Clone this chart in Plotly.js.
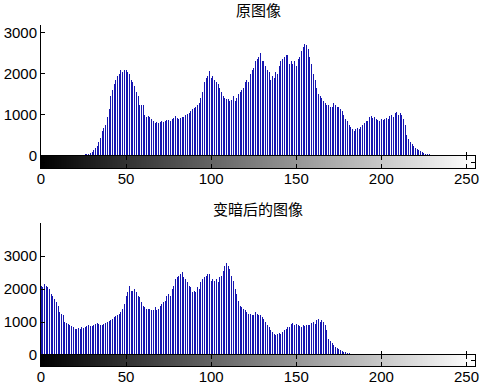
<!DOCTYPE html>
<html>
<head>
<meta charset="utf-8">
<script src="https://cdn.plot.ly/plotly-3.0.1.min.js"></script>
<style>
html,body{margin:0;padding:0;background:#fff;}
#chart{width:487px;height:386px;}
.scatterlayer path.js-line{shape-rendering:crispEdges;}
</style>
</head>
<body>
<div id="chart"></div>
<script>
// Titles
const titleOriginal = "原图像";
const titleDark = "变暗后的图像";

// Tick labels
const xTickVals = [0, 50, 100, 150, 200, 250];
const xTickText = ["0", "50", "100", "150", "200", "250"];
const yTickVals1 = [0, 1000, 2000, 3000];
const yTickText1 = ["0", "1000", "2000", "3000"];
const yTickVals2 = [0, 1000, 2000, 3000];
const yTickText2 = ["0", "1000", "2000", "3000"];

// Gray levels 0..255
const grayLevels = Array.from({length: 256}, (_, i) => i);

// Histogram counts of the original image (bins 0..255)
const countsOriginal = [
  0,0,0,0,0,0,0,0,0,0, 0,0,0,0,0,0,0,0,0,0, 0,0,0,0,0,
  30,40,50,60,80,
  100,140,190,250,350,450,600,680,750,950,
  1150,1450,1600,1750,1850,1950,2000,2100,2050,2100,
  2100,2050,2000,1850,1800,1700,1550,1450,1250,1230,
  1250,1000,960,980,950,900,850,800,820,800,
  820,850,830,850,870,880,860,900,920,980,
  930,900,920,950,960,1000,1020,1050,1100,1150,
  1180,1200,1250,1300,1400,1550,1800,1900,1950,2080,
  1900,1950,1850,1800,1750,1650,1550,1450,1400,1380,
  1380,1350,1370,1450,1350,1400,1500,1550,1600,1650,
  1800,1850,1800,2000,2100,2150,2300,2350,2400,2500,
  2300,2300,2200,2100,2050,1850,1950,1900,2050,2000,
  2200,2300,2350,2400,2450,2450,2250,2300,2250,2300,
  2200,2350,2400,2550,2650,2720,2700,2600,2400,2250,
  2000,1850,1650,1500,1450,1400,1350,1300,1250,1250,
  1200,1200,1300,1250,1200,1200,1150,1100,1000,900,
  850,750,700,650,620,650,680,650,700,750,
  800,850,850,950,980,920,950,900,880,850,
  900,880,900,920,900,980,1000,950,1050,1080,
  1000,1050,1000,900,750,500,420,350,300,250,
  200,180,150,120,100,80,60,50,40,30,
  30,20,20,20,15,20,10,15,10,10,
  15,10,5,10,5,10,5,5,10,5,
  0,0,0,0,0,0
];

// Histogram counts of the darkened image (bins 0..255)
const countsDark = [
  2100,2050,2150,2100,2050,2000,1850,1800,1700,1600,
  1500,1300,1230,1200,1000,960,950,920,880,850,
  800,780,820,800,850,830,850,880,900,870,
  880,920,950,980,930,900,920,950,960,1000,
  1020,1050,1100,1150,1180,1200,1250,1300,1400,1550,
  1800,1900,2100,1950,1950,2000,1900,1800,1750,1600,
  1500,1450,1400,1400,1380,1350,1350,1450,1350,1400,
  1500,1550,1600,1650,1800,1850,1800,2000,2100,2300,
  2350,2400,2450,2530,2350,2300,2200,2100,2050,1900,
  1950,1900,2050,2000,2200,2300,2350,2400,2450,2450,
  2250,2300,2250,2300,2200,2350,2400,2550,2700,2780,
  2700,2600,2400,2250,2000,1850,1650,1500,1450,1400,
  1350,1300,1250,1250,1200,1200,1300,1250,1200,1200,
  1150,1100,1000,900,850,750,700,650,620,650,
  680,650,700,750,800,850,850,950,980,920,
  950,900,880,850,900,880,900,920,900,980,
  1000,950,1050,1080,1000,1050,1000,900,750,500,
  420,350,300,250,200,180,150,120,100,80,
  60,50,40,30,30,20,20,20,15,20,
  10,15,10,10,15,10,5,10,5,10,
  0,0,0,0,0,0,0,0,0,0, 0,0,0,0,0,0,0,0,0,0,
  0,0,0,0,0,0,0,0,0,0, 0,0,0,0,0,0,0,0,0,0,
  0,0,0,0,0,0,0,0,0,0, 0,0,0,0,0,0
];

// Build stem line segments from the data
function stems(levels, counts) {
  const xs = [], ys = [];
  levels.forEach((g, i) => {
    if (counts[i] > 0) { xs.push(g, g, null); ys.push(0, counts[i], null); }
  });
  return {x: xs, y: ys};
}

const s1 = stems(grayLevels, countsOriginal);
const s2 = stems(grayLevels, countsDark);

const stemColor = '#1616b0';
const tickFont = {family: '"Liberation Sans Narrow", "Liberation Sans", Arial, sans-serif', size: 15, color: '#000'};

const traces = [
  {type: 'scatter', mode: 'lines', x: s1.x, y: s1.y, xaxis: 'x', yaxis: 'y',
   line: {color: stemColor, width: 1}, hoverinfo: 'skip', showlegend: false, connectgaps: false},
  {type: 'heatmap', x: grayLevels, y: [0.5], z: [grayLevels], xaxis: 'x2', yaxis: 'y2',
   colorscale: [[0, '#000000'], [1, '#ffffff']], zmin: 0, zmax: 255, showscale: false, hoverinfo: 'skip'},
  {type: 'scatter', mode: 'lines', x: s2.x, y: s2.y, xaxis: 'x3', yaxis: 'y3',
   line: {color: stemColor, width: 1}, hoverinfo: 'skip', showlegend: false, connectgaps: false},
  {type: 'heatmap', x: grayLevels, y: [0.5], z: [grayLevels], xaxis: 'x4', yaxis: 'y4',
   colorscale: [[0, '#000000'], [1, '#ffffff']], zmin: 0, zmax: 255, showscale: false, hoverinfo: 'skip'}
];

const W = 487, H = 386;
const xDom = [41 / W, 475 / W];
function yDom(topPx, botPx) { return [(H - botPx) / H, (H - topPx) / H]; }

function histX(anchor) {
  return {domain: xDom, range: [0, 255], anchor: anchor, showgrid: false, zeroline: false,
    showline: false, showticklabels: false, ticks: 'inside', ticklen: 4, tickcolor: '#000',
    tickvals: xTickVals, layer: 'below traces', fixedrange: true};
}
function histY(anchor, dom, range, tv, tt) {
  return {domain: dom, range: range, anchor: anchor, showgrid: false, zeroline: false,
    showline: true, linecolor: '#000', linewidth: 1, ticks: 'inside', ticklen: 4, tickcolor: '#000',
    tickvals: tv, ticktext: tt, tickfont: tickFont, fixedrange: true};
}
function barX(anchor) {
  return {domain: xDom, range: [0, 255], anchor: anchor, showgrid: false, zeroline: false,
    showline: true, linecolor: '#000', linewidth: 1, mirror: 'ticks', ticks: 'inside', ticklen: 4,
    tickcolor: '#000', tickvals: xTickVals, ticktext: xTickText, tickfont: tickFont,
    ticklabelstandoff: -3, fixedrange: true};
}
function barY(anchor, dom) {
  return {domain: dom, range: [0, 1], anchor: anchor, showgrid: false, zeroline: false,
    showline: true, linecolor: '#000', linewidth: 1, mirror: 'ticks', ticks: 'inside', ticklen: 4,
    tickcolor: '#000', tickvals: [0.5], showticklabels: false, fixedrange: true};
}

const titleFont = {family: '"Noto Sans CJK SC", sans-serif', size: 15, color: '#000'};

const layout = {
  width: W, height: H,
  margin: {l: 0, r: 0, t: 0, b: 0},
  paper_bgcolor: '#fff', plot_bgcolor: 'rgba(0,0,0,0)',
  showlegend: false,
  xaxis: histX('y'),
  yaxis: histY('x', yDom(24.5, 156), [0, 3200], yTickVals1, yTickText1),
  xaxis2: barX('y2'),
  yaxis2: barY('x2', yDom(156, 168)),
  xaxis3: histX('y3'),
  yaxis3: histY('x3', yDom(223, 355), [0, 4000], yTickVals2, yTickText2),
  xaxis4: barX('y4'),
  yaxis4: barY('x4', yDom(355, 366)),
  annotations: [
    {text: titleOriginal, xref: 'paper', yref: 'paper', x: 258 / W, y: (H - 10) / H,
     xanchor: 'center', yanchor: 'middle', showarrow: false, font: titleFont},
    {text: titleDark, xref: 'paper', yref: 'paper', x: 258 / W, y: (H - 208) / H,
     xanchor: 'center', yanchor: 'middle', showarrow: false, font: titleFont}
  ]
};

Plotly.newPlot('chart', traces, layout, {displayModeBar: false, staticPlot: true});
</script>
</body>
</html>
